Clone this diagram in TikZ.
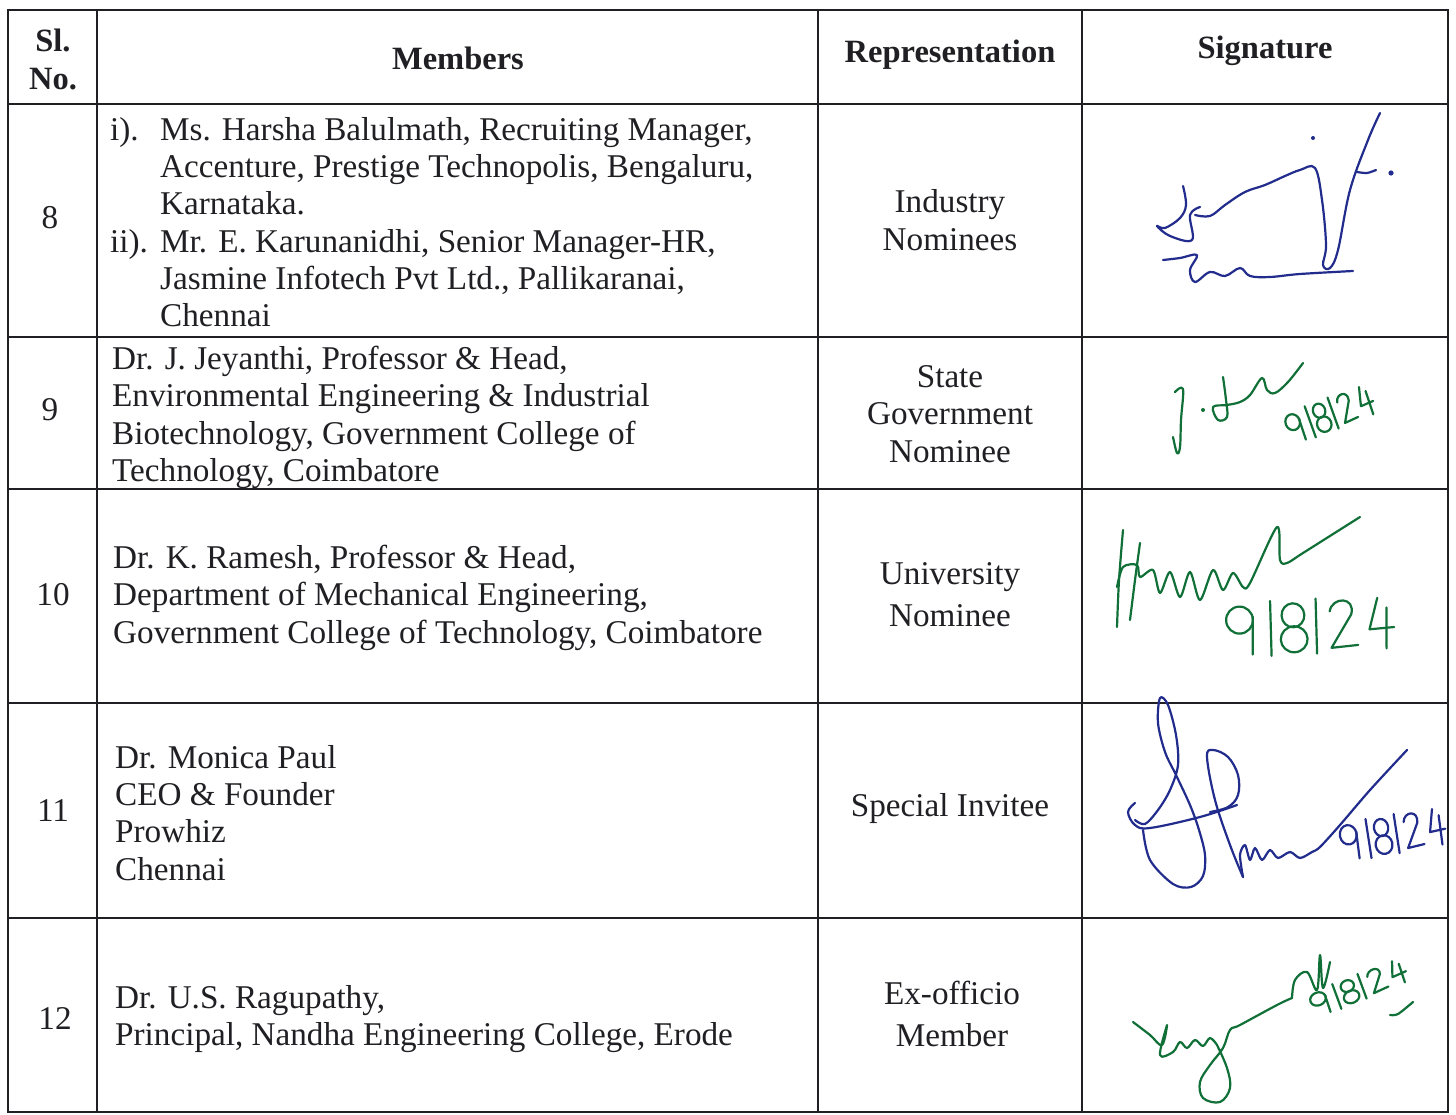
\documentclass[tikz,border=0pt]{standalone}
\usepackage{fontspec}
\setmainfont{Liberation Serif}
\usepackage{tikz}
\usetikzlibrary{positioning}
\definecolor{print}{RGB}{32,32,36}
\definecolor{inkblue}{RGB}{34,44,140}
\definecolor{inkgreen}{RGB}{16,112,56}
\tikzstyle{cell} = [inner sep=0pt, text=print, font=\fontsize{33.2}{37.3}\selectfont]
\tikzstyle{head} = [cell, align=center, font=\fontsize{32.5}{38}\selectfont\bfseries]
\tikzstyle{lines} = [cell, align=left, anchor=north west]
\tikzstyle{rep} = [cell, align=center]
\tikzstyle{rule} = [draw=print, line width=1.6pt]
\tikzstyle{sign} = [line width=2.2pt, line cap=round, line join=round]
\newcommand{\handdate}[5]{%
  \begin{scope}[sign, #5, shift={#1}, rotate=#4, xscale=#2, yscale=#3]
    \draw (0.25,0.3) ellipse [x radius=0.2, y radius=0.27];
    \draw (0.45,0.25) -- (0.42,1.0);
    \draw (0.72,-0.05) -- (0.7,1.05);
    \draw (1.05,0.26) ellipse [x radius=0.17, y radius=0.24];
    \draw (1.05,0.74) ellipse [x radius=0.2, y radius=0.26];
    \draw (1.4,-0.05) -- (1.38,1.05);
    \draw (1.6,0.22) .. controls (1.65,-0.08) and (2.0,-0.05) .. (1.92,0.3) -- (1.6,0.95) -- (2.0,0.92);
    \draw (2.32,0.0) -- (2.18,0.62) -- (2.55,0.6);
    \draw (2.45,0.2) -- (2.42,1.02);
  \end{scope}}

\begin{document}
\begin{tikzpicture}[x=1pt,y=-1pt]
	\useasboundingbox (0,0) rectangle (1456,1115);
	\fill[white] (0,0) rectangle (1456,1115);
	% table rules
	\draw[rule] (8,10) rectangle (1448,1112);
	\foreach \y in {104,337,489,703,918} \draw[rule] (8,\y) -- (1448,\y);
	\foreach \x in {97,818,1082} \draw[rule] (\x,10) -- (\x,1112);
	% header
	\node[head] (slno) at (53,59) {Sl.\\No.};
	\node[head] (members) at (458,58) {Members};
	\node[head] (repr) at (950,55) {Representation};
	\node[head] (signature) at (1265,51) {Signature};
	% serial numbers
	\node[cell] (n8) at (50,218) {8};
	\node[cell] (n9) at (50,410) {9};
	\node[cell] (n10) at (53,595) {10};
	\node[cell] (n11) at (53,811) {11};
	\node[cell] (n12) at (55,1018) {12};
	% members
	\node[lines] (m8a) at (110,117) {i).\\[74.6pt]ii).};
	\node[lines] (m8) at (160,117) {Ms. Harsha Balulmath, Recruiting Manager,\\Accenture, Prestige Technopolis, Bengaluru,\\Karnataka.\\Mr. E. Karunanidhi, Senior Manager-HR,\\Jasmine Infotech Pvt Ltd., Pallikaranai,\\Chennai};
	\node[lines] (m9) at (112,346) {Dr. J. Jeyanthi, Professor \& Head,\\Environmental Engineering \& Industrial\\Biotechnology, Government College of\\Technology, Coimbatore};
	\node[lines] (m10) at (113,545) {Dr. K. Ramesh, Professor \& Head,\\Department of Mechanical Engineering,\\Government College of Technology, Coimbatore};
	\node[lines] (m11) at (115,745) {Dr. Monica Paul\\CEO \& Founder\\Prowhiz\\Chennai};
	\node[lines] (m12) at (115,985) {Dr. U.S. Ragupathy,\\Principal, Nandha Engineering College, Erode};
	% representation
	\node[rep] (r8) at (950,220) {Industry\\Nominees};
	\node[rep] (r9) at (950,414) {State\\Government\\Nominee};
	\node[rep] (r10) at (950,595) {University\\[5pt]Nominee};
	\node[rep] (r11) at (950,809) {Special Invitee};
	\node[rep] (r12) at (952,1014) {Ex-officio\\[5pt]Member};
	% signatures, row 8
	\begin{scope}[sign, inkblue]
		\draw plot[smooth, tension=0.6] coordinates {(1183,186) (1186,205) (1180,218) (1165,228) (1157,226) (1170,236) (1192,240) (1190,215) (1200,207)};
		\draw plot[smooth, tension=0.6] coordinates {(1195,215) (1210,216) (1225,205) (1245,192) (1265,185) (1285,176) (1300,170) (1315,168) (1322,200) (1326,245) (1323,265) (1330,268) (1338,250) (1350,190) (1368,140) (1380,113)};
		\draw plot[smooth] coordinates {(1357,172) (1367,173) (1376,170)};
		\fill (1313,138) circle (2);
		\fill (1391,173) circle (2.6);
		\draw plot[smooth, tension=0.6] coordinates {(1163,260) (1180,258) (1197,255) (1190,270) (1195,282) (1210,272) (1225,276) (1240,268) (1250,276) (1270,277) (1300,274) (1353,271)};
	\end{scope}
	% row 9
	\begin{scope}[sign, inkgreen]
		\draw plot[smooth, tension=0.6] coordinates {(1175,392) (1183,389) (1181,420) (1180,447) (1177,453) (1173,437)};
		\fill (1203,410) circle (2);
		\draw plot[smooth, tension=0.6] coordinates {(1223,377) (1226,400) (1227,417) (1218,420) (1213,407) (1227,405) (1240,402) (1250,395) (1262,378) (1267,390) (1275,393) (1288,382) (1303,363)};
	\end{scope}
	\handdate{(1281,417)}{36}{30}{21}{inkgreen}
	% row 10
	\begin{scope}[sign, inkgreen]
		\draw plot[smooth] coordinates {(1123,530) (1119,580) (1117,627)};
		\draw plot[smooth] coordinates {(1140,543) (1135,580) (1130,620)};
		\draw plot[smooth, tension=0.5] coordinates {(1117,587) (1123,567) (1137,565) (1140,577) (1153,570) (1160,593) (1170,572) (1180,597) (1190,572) (1200,600) (1213,570) (1223,590) (1233,573) (1243,587) (1250,583) (1277,527) (1280,560) (1287,563) (1303,553) (1360,517)};
	\end{scope}
	\handdate{(1222,606)}{67}{50}{3}{inkgreen}
	% row 11
	\begin{scope}[sign, inkblue]
		\draw plot[smooth, tension=0.55] coordinates {(1143,830) (1150,860) (1173,884) (1191,887) (1203,876) (1205,855) (1199,830) (1190,805) (1176,775) (1165,752) (1158,723) (1160,698) (1168,705) (1176,735) (1178,765) (1170,790) (1158,810) (1145,824) (1135,820)};
		\draw plot[smooth, tension=0.6] coordinates {(1135,803) (1128,812) (1135,825) (1150,828) (1200,817) (1237,805)};
		\draw plot[smooth, tension=0.6] coordinates {(1243,877) (1230,845) (1215,800) (1207,757) (1213,750) (1228,757) (1238,775) (1238,795) (1228,807) (1210,812)};
		\draw plot[smooth, tension=0.5] coordinates {(1243,877) (1240,855) (1245,845) (1250,860) (1255,848) (1262,860) (1270,850) (1278,858) (1290,852) (1300,858) (1312,852) (1320,847) (1340,825) (1370,790) (1407,750)};
	\end{scope}
	\handdate{(1336,826)}{42}{36}{10}{inkblue}
	% row 12
	\begin{scope}[sign, inkgreen]
		\draw plot[smooth, tension=0.6] coordinates {(1133,1022) (1150,1035) (1162,1045) (1167,1025) (1160,1055) (1173,1052) (1180,1042) (1187,1048) (1195,1040) (1203,1046) (1210,1038) (1217,1045)};
		\draw plot[smooth, tension=0.6] coordinates {(1217,1045) (1227,1068) (1230,1088) (1220,1102) (1203,1098) (1200,1082) (1210,1065) (1223,1048) (1230,1030) (1240,1025) (1277,1005) (1292,998)};
		\draw plot[smooth, tension=0.6] coordinates {(1292,998) (1295,980) (1307,972) (1317,990) (1320,955) (1323,988) (1330,962)};
		\draw plot[smooth] coordinates {(1390,1015) (1398,1014) (1413,1002)};
	\end{scope}
	\handdate{(1306,996)}{40}{24}{22}{inkgreen}
\end{tikzpicture}
\end{document}
